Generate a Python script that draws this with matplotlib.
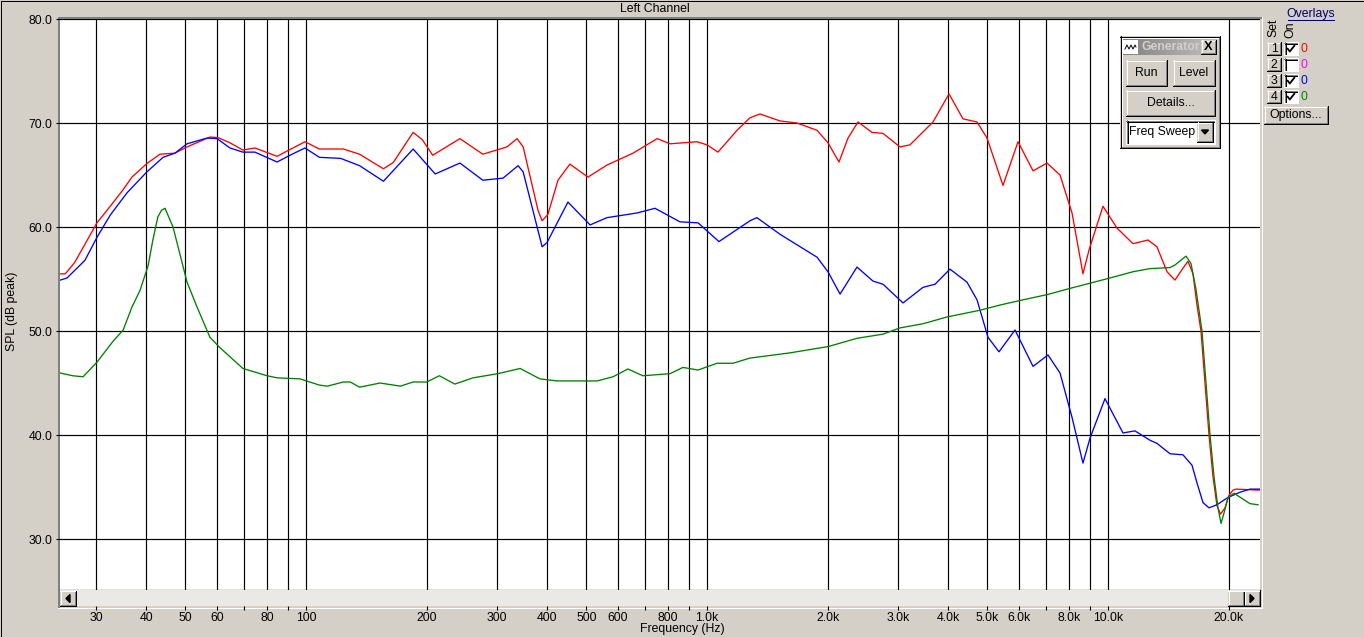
import numpy as np
import matplotlib
matplotlib.use('Agg')
import matplotlib.pyplot as plt
from matplotlib.patches import Rectangle, Polygon
from matplotlib.ticker import FixedLocator, NullFormatter, FixedFormatter
from matplotlib.colors import LinearSegmentedColormap

plt.rcParams['font.family'] = ['Liberation Sans', 'DejaVu Sans']

# ---------------- data ----------------
freq_red = [24.4, 25.1, 26.5, 30.1, 32.5, 35.0, 36.8, 40.1, 43.2, 47.1, 50.5, 57.6, 60.3, 64.6,
            69.6, 74.6, 84.7, 92.8, 99.4, 108, 124, 136, 156, 165, 185, 195, 207, 242, 276, 317,
            336, 348, 379, 388, 401, 425, 455, 505, 563, 654, 751, 809, 944, 1000, 1065, 1188, 1280,
            1356, 1521, 1677, 1881, 2003, 2134, 2247, 2380, 2579, 2748, 3029, 3208, 3662, 4014,
            4349, 4714, 4993, 5472, 5966, 6502, 7046, 7593, 8134, 8662, 8970, 9717, 10530, 11545,
            12584, 13248, 14035, 14693, 15292, 15829, 16293, 16670, 17058, 17457, 17862, 18275,
            18700, 19080, 19583, 20033, 20500, 20858, 23939]
spl_red = [55.5, 55.5, 56.6, 60.4, 62.0, 63.6, 64.8, 66.1, 67.0, 67.1, 67.7, 68.65, 68.6, 68.1,
           67.4, 67.6, 66.8, 67.6, 68.2, 67.5, 67.5, 67.0, 65.6, 66.2, 69.1, 68.4, 66.9, 68.5,
           67.0, 67.7, 68.5, 67.7, 61.6, 60.6, 61.2, 64.5, 66.05, 64.8, 65.96, 67.1, 68.5, 68.0, 68.2,
           67.9, 67.2, 69.3, 70.5, 70.87, 70.2, 70.0, 69.3, 68.1, 66.25, 68.55, 70.1, 69.1, 69.0,
           67.7, 67.9, 70.1, 72.8, 70.4, 70.1, 68.55, 64.0, 68.2, 65.4, 66.15, 65.0, 61.35, 55.5,
           57.8, 62.0, 59.9, 58.4, 58.75, 58.1, 55.7, 54.9, 55.9, 56.7, 55.5, 52.5, 50.0, 45.0,
           40.0, 36.0, 33.2, 32.4, 33.0, 34.2, 34.7, 34.8, 34.7]

freq_blue = [24.4, 25.35, 28.1, 30.1, 32.5, 35.8, 40.1, 44.0, 47.1, 50.5, 56.6, 60.0, 64.6, 69.6,
             74.6, 84.7, 91.2, 99.4, 108, 122, 136, 156, 185, 210, 242, 276, 310, 338, 348, 388,
             399, 450, 511, 563, 669, 742, 856, 950, 1071, 1280, 1332, 1521, 1881, 2003, 2147,
             2366, 2594, 2748, 3082, 3457, 3704, 4036, 4450, 4714, 5021, 5348, 5863, 6502, 7087,
             7593, 8134, 8662, 9020, 9829, 10899, 11676, 12725, 13248, 14278, 15382, 16199,
             16670, 17257, 17862, 18700, 19921, 21344, 22603, 23939]
spl_blue = [54.9, 55.1, 56.8, 59.0, 61.15, 63.3, 65.3, 66.7, 67.1, 68.0, 68.55, 68.5, 67.6, 67.2,
            67.2, 66.25, 66.9, 67.6, 66.7, 66.6, 65.9, 64.4, 67.5, 65.1, 66.15, 64.5, 64.7, 65.9,
            65.3, 58.1, 58.5, 62.4, 60.2, 60.9, 61.35, 61.8, 60.5, 60.4, 58.6, 60.6, 60.9, 59.3,
            57.1, 55.7, 53.55, 56.15, 54.8, 54.5, 52.7, 54.2, 54.5, 55.95, 54.7, 53.0, 49.4, 48.0,
            50.1, 46.6, 47.7, 45.96, 41.7, 37.3, 39.7, 43.5, 40.2, 40.4, 39.5, 39.2, 38.2, 38.1,
            37.1, 35.4, 33.5, 33.0, 33.3, 34.0, 34.5, 34.8, 34.8]

freq_green = [24.4, 26.2, 27.8, 30.1, 33.0, 35.0, 36.8, 38.55, 40.4, 41.5, 42.7, 43.6, 44.5, 46.6,
              50.5, 53.5, 57.6, 61.0, 69.6, 80.0, 84.7, 96.6, 108, 113, 124, 129, 136, 153, 172,
              185, 200, 215, 235, 261, 301, 342, 383, 423, 532, 583, 635, 692, 809, 871, 950, 1059,
              1161, 1280, 1611, 2003, 2366, 2748, 3029, 3457, 3967, 4797, 5381, 6138, 7046, 8041,
              9020, 10116, 11545, 12725, 14278, 14693, 15652, 16106, 16577, 17157, 17558, 17965,
              18381, 18808, 19137, 19470, 19921, 20619, 21590, 22603, 23666]
spl_green = [45.96, 45.7, 45.6, 47.0, 49.0, 50.1, 52.3, 53.9, 56.3, 58.75, 60.96, 61.6, 61.8, 60.0,
             54.7, 52.3, 49.4, 48.4, 46.4, 45.7, 45.5, 45.4, 44.8, 44.7, 45.1, 45.1, 44.6, 45.0,
             44.7, 45.1, 45.1, 45.7, 44.9, 45.5, 45.9, 46.4, 45.4, 45.2, 45.2, 45.6, 46.35, 45.7,
             45.9, 46.5, 46.25, 46.9, 46.9, 47.4, 47.9, 48.5, 49.3, 49.7, 50.3, 50.7, 51.35, 52.0,
             52.5, 53.0, 53.5, 54.1, 54.6, 55.1, 55.7, 56.0, 56.1, 56.35, 57.2, 56.5, 54.0, 50.0,
             45.0, 40.0, 36.0, 33.0, 31.5, 32.5, 34.0, 34.4, 33.9, 33.4, 33.3]

grid_freqs = [30, 40, 50, 60, 70, 80, 90, 100, 200, 300, 400, 500, 600, 700, 800, 900,
              1000, 2000, 3000, 4000, 5000, 6000, 7000, 8000, 9000, 10000, 20000]
label_freqs = [30, 40, 50, 60, 80, 100, 200, 300, 400, 500, 600, 800, 1000, 2000, 3000, 4000,
               5000, 6000, 8000, 10000, 20000]
label_texts = ['30', '40', '50', '60', '80', '100', '200', '300', '400', '500', '600', '800',
               '1.0k', '2.0k', '3.0k', '4.0k', '5.0k', '6.0k', '8.0k', '10.0k', '20.0k']
unlabeled_freqs = [70, 90, 700, 900, 7000, 9000]
y_ticks = [30, 40, 50, 60, 70, 80]
y_labels = ['30.0', '40.0', '50.0', '60.0', '70.0', '80.0']

overlay_sets = ['1', '2', '3', '4']
overlay_on = [True, False, True, True]
overlay_vals = ['0', '0', '0', '0']
overlay_colors = ['#FF0000', '#FF00FF', '#0000FF', '#008000']

# ---------------- layout ----------------
W, H, DPI = 1364, 637, 100
BG = '#D4D0C8'
DARK = '#808080'
FS = 8.8
PX = 72.0 / DPI   # one pixel in points

fig = plt.figure(figsize=(W / DPI, H / DPI), dpi=DPI, facecolor=BG)


def rect_px(x0, y0, x1, y1):
    return [x0 / W, 1 - y1 / H, (x1 - x0) / W, (y1 - y0) / H]


def overlay(z):
    a = fig.add_axes([0, 0, 1, 1], zorder=z)
    a.set_xlim(0, W)
    a.set_ylim(H, 0)
    a.axis('off')
    a.patch.set_alpha(0)
    return a


bg = overlay(0)
fg = overlay(10)

XMIN, XMAX = 24.35, 23939
YMIN, YMAX = 25.1, 80.0

# main plot
ax = fig.add_axes(rect_px(60, 19, 1260, 590), zorder=2)
ax.set_facecolor('white')
ax.set_xscale('log')
ax.set_xlim(XMIN, XMAX)
ax.set_ylim(YMIN, YMAX)
ax.xaxis.set_major_locator(FixedLocator(grid_freqs))
ax.xaxis.set_minor_locator(FixedLocator([]))
ax.tick_params(axis='x', which='both', length=0, labelbottom=False)
ax.set_yticks(y_ticks)
ax.set_yticklabels(y_labels)
ax.tick_params(axis='y', length=3, width=0.8, pad=2.5, labelsize=FS, colors='black')
ax.grid(True, color='black', linewidth=0.85)
ax.set_axisbelow(True)
for s in ['top', 'right', 'left']:
    ax.spines[s].set_visible(False)
ax.spines['bottom'].set_color('black')
ax.spines['bottom'].set_linewidth(0.9)

ax.plot(freq_red, spl_red, color='#FF0000', lw=0.95, zorder=3)
ax.plot(freq_blue, spl_blue, color='#0000FF', lw=0.95, zorder=4)
ax.plot(freq_green, spl_green, color='#008000', lw=0.95, zorder=5)

# scrollbar axis carrying the frequency ticks
sb = fig.add_axes(rect_px(60, 590, 1260, 606), zorder=2)
sb.set_facecolor('#EBE9E5')
sb.set_xscale('log')
sb.set_xlim(XMIN, XMAX)
sb.set_ylim(0, 1)
sb.set_yticks([])
sb.xaxis.set_major_locator(FixedLocator(label_freqs))
sb.xaxis.set_major_formatter(FixedFormatter(label_texts))
sb.xaxis.set_minor_locator(FixedLocator(unlabeled_freqs))
sb.xaxis.set_minor_formatter(NullFormatter())
sb.tick_params(axis='x', which='both', direction='out', length=3, width=0.8, pad=1.5,
               labelsize=FS, colors='black')
for s in sb.spines.values():
    s.set_visible(False)


def hline(a, x0, x1, y, c, w=1):
    a.plot([x0, x1], [y, y], color=c, lw=w * PX, solid_capstyle='butt', antialiased=False)


def vline(a, x, y0, y1, c, w=1):
    a.plot([x, x], [y0, y1], color=c, lw=w * PX, solid_capstyle='butt', antialiased=False)


def button(a, x0, y0, x1, y1, text=None, fs=FS, bold=False):
    a.add_patch(Rectangle((x0, y0), x1 - x0, y1 - y0, facecolor=BG, edgecolor='none'))
    hline(a, x0, x1, y0 + 0.5, 'white')
    vline(a, x0 + 0.5, y0, y1, 'white')
    hline(a, x0, x1, y1 - 0.5, 'black')
    vline(a, x1 - 0.5, y0, y1, 'black')
    hline(a, x0 + 1, x1 - 1, y1 - 1.5, DARK)
    vline(a, x1 - 1.5, y0 + 1, y1 - 1, DARK)
    if text:
        a.text((x0 + x1) / 2, (y0 + y1) / 2, text, ha='center', va='center', fontsize=fs,
               color='black', fontweight='bold' if bold else 'normal')


def sunken(a, x0, y0, x1, y1, face='white'):
    a.add_patch(Rectangle((x0, y0), x1 - x0, y1 - y0, facecolor=face, edgecolor='none'))
    hline(a, x0, x1, y0 + 0.5, DARK)
    vline(a, x0 + 0.5, y0, y1, DARK)
    hline(a, x0 + 1, x1 - 1, y0 + 1.5, 'black')
    vline(a, x0 + 1.5, y0 + 1, y1 - 1, 'black')
    hline(a, x0, x1, y1 - 0.5, 'white')
    vline(a, x1 - 0.5, y0, y1, 'white')


# background frame around the plot area
vline(bg, 58.5, 17, 608, DARK, 2)
hline(bg, 58, 1262, 17.5, DARK, 2)
hline(bg, 58, 1262, 607.5, 'white', 1)
vline(bg, 1261.5, 17, 608, 'white', 1)
# outer black border
fg.add_patch(Rectangle((0.5, 0.5), W - 1, H - 1, fill=False, edgecolor='black', lw=PX))

# texts
bg.text(655, 9, 'Left Channel', ha='center', va='center', fontsize=FS, color='black')
bg.text(682, 629, 'Frequency (Hz)', ha='center', va='center', fontsize=FS, color='black')
bg.text(12, 311, 'SPL (dB peak)', ha='center', va='center', rotation=90, fontsize=FS,
        color='black')

# scrollbar buttons
button(fg, 60, 590.5, 76, 606)
fg.add_patch(Polygon([[70, 594.5], [70, 602.5], [66, 598.5]], closed=True, color='black'))
button(fg, 1228, 590.5, 1244, 606)
button(fg, 1244, 590.5, 1260, 606)
fg.add_patch(Polygon([[1250, 594.5], [1250, 602.5], [1254, 598.5]], closed=True, color='black'))

# ---------------- Generator window ----------------
gx0, gy0, gx1, gy1 = 1120, 36, 1220, 148
fg.add_patch(Rectangle((gx0, gy0), gx1 - gx0, gy1 - gy0, facecolor=BG, edgecolor='none'))
hline(fg, gx0 + 1, gx1 - 1, gy0 + 1.5, 'white')
vline(fg, gx0 + 1.5, gy0 + 1, gy1 - 1, 'white')
hline(fg, gx0, gx1, gy1 - 0.5, 'black')
vline(fg, gx1 - 0.5, gy0, gy1, 'black')
hline(fg, gx0 + 1, gx1 - 1, gy1 - 1.5, DARK)
vline(fg, gx1 - 1.5, gy0 + 1, gy1 - 1, DARK)
vline(fg, gx0 + 0.5, gy0, gy1, 'black')
hline(fg, gx0, gx1, gy0 + 0.5, 'black')
# title bar gradient
grad = np.linspace(0, 1, 200)[None, :]
cm = LinearSegmentedColormap.from_list('tb', ['#808080', '#C0C0C0'])
fg.imshow(grad, cmap=cm, extent=(1123, 1217, 55, 39), aspect='auto', zorder=1,
          interpolation='bilinear')
fg.set_xlim(0, W)
fg.set_ylim(H, 0)
# icon
fg.add_patch(Rectangle((1123, 40), 15, 14, facecolor='white', edgecolor='none', zorder=2))
fg.plot([1125, 1127, 1129, 1129, 1131, 1133, 1133, 1135, 1136],
        [49, 45, 49, 49, 45, 49, 49, 45, 47], color='black', lw=0.7, zorder=3)
fg.text(1141, 47.5, 'Generator', ha='left', va='center', fontsize=FS, fontweight='bold',
        color='#D4D0C8', zorder=3)
button(fg, 1201, 40, 1216, 54)
fg.text(1208.5, 47, 'X', ha='center', va='center', fontsize=FS + 0.5, fontweight='bold',
        color='black')
button(fg, 1126, 60, 1167, 86, 'Run')
button(fg, 1173, 60, 1215, 86, 'Level')
button(fg, 1126, 90, 1215, 116, 'Details...')
sunken(fg, 1126, 120, 1215, 144)
fg.text(1129, 132, 'Freq Sweep', ha='left', va='center', fontsize=FS, color='black')
button(fg, 1197, 122, 1213, 142)
fg.add_patch(Polygon([[1201.5, 130], [1208.5, 130], [1205, 134]], closed=True, color='black'))

# ---------------- Overlays panel ----------------
fg.text(1311, 13.5, 'Overlays', ha='center', va='center', fontsize=FS, color='#000060')
hline(fg, 1288, 1334, 19.5, '#000060')
fg.text(1273, 28, 'Set', ha='center', va='center', rotation=90, fontsize=FS, color='black')
fg.text(1290, 30, 'On', ha='center', va='center', rotation=90, fontsize=FS, color='black')
row_y = [42, 58, 74, 90]
for i, yy in enumerate(row_y):
    button(fg, 1267, yy, 1281, yy + 13, overlay_sets[i])
    sunken(fg, 1284, yy, 1298, yy + 13)
    if overlay_on[i]:
        fg.plot([1287.5, 1289.8, 1294.5], [yy + 6.5, yy + 9.5, yy + 3.5], color='black',
                lw=1.3, solid_joinstyle='round', solid_capstyle='round')
    fg.text(1303.5, yy + 6.5, overlay_vals[i], ha='center', va='center', fontsize=FS,
            color=overlay_colors[i])
button(fg, 1264, 106, 1328, 124, 'Options...')

fig.savefig('out.png', dpi=DPI, facecolor=BG)
